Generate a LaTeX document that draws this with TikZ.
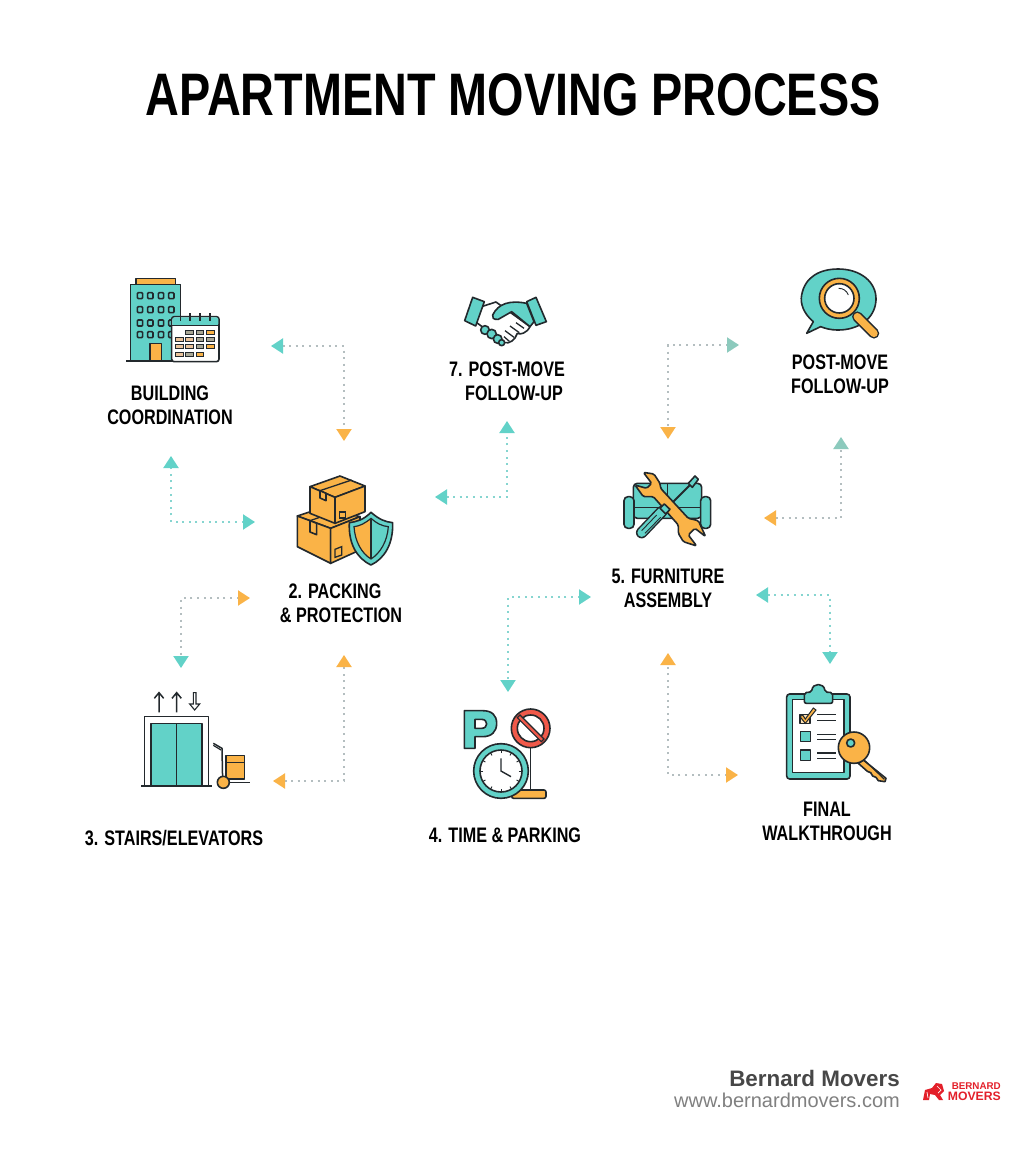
\documentclass[tikz,border=0pt]{standalone}
\usepackage{fontspec}
\usetikzlibrary{arrows.meta}
\newfontfamily\condbold[FakeStretch=0.77]{Liberation Sans Bold}
\newfontfamily\titlebold[FakeStretch=0.78]{Liberation Sans Bold}
\newfontfamily\footfont{Liberation Sans}
\newfontfamily\footbold{Liberation Sans Bold}
\definecolor{ink}{HTML}{23292D}
\definecolor{teal}{HTML}{62D2C8}
\definecolor{tealgrey}{HTML}{8CCABD}
\definecolor{orng}{HTML}{FAB347}
\definecolor{redd}{HTML}{F0594A}
\definecolor{brandred}{HTML}{E3202A}
\definecolor{dotgrey}{HTML}{B4BEC0}
\definecolor{dotteal}{HTML}{86D5D0}
\definecolor{cellg}{HTML}{A9A795}
\definecolor{cellp}{HTML}{EBC39B}
\tikzset{
  lbl/.style={font=\condbold\fontsize{21}{24}\selectfont,text=black,inner sep=0pt,align=center},
  conn/.style={line width=2pt,dash pattern=on 2pt off 4.6pt},
  ic/.style={draw=ink,line width=1.6pt,line join=round},
  tipteal/.tip={Triangle[length=12pt,width=15pt,color=teal]},
  tiporng/.tip={Triangle[length=12pt,width=15pt,color=orng]},
  tipgrey/.tip={Triangle[length=12pt,width=15pt,color=tealgrey]}
}
\begin{document}
\begin{tikzpicture}[x=1pt,y=-1pt]
\useasboundingbox (0,0) rectangle (1024,1154);
\fill[white] (0,0) rectangle (1024,1154);

% title
\node[font=\titlebold\fontsize{60}{60}\selectfont,text=black,inner sep=0pt] (title) at (513,95) {APARTMENT MOVING PROCESS};

% labels
\node[lbl] (l1) at (170,405) {BUILDING\\COORDINATION};
\node[lbl] (l2) at (341,603) {2. PACKING\hspace*{12pt}\\\& PROTECTION};
\node[lbl] (l3) at (174,838) {3. STAIRS/ELEVATORS};
\node[lbl] (l4) at (505,835) {4. TIME \& PARKING};
\node[lbl] (l5) at (668,588) {5. FURNITURE\\ASSEMBLY};
\node[lbl] (l6) at (840,374) {POST-MOVE\\FOLLOW-UP};
\node[lbl,align=right] (l7) at (507,381) {7. POST-MOVE\\FOLLOW-UP\hspace*{2pt}};
\node[lbl] (l8) at (827,821) {FINAL\\WALKTHROUGH};

% connector ends
\coordinate (a1) at (271,346); \coordinate (b1) at (344,441);
\coordinate (a2) at (255,522); \coordinate (b2) at (171,456);
\coordinate (a3) at (250,598); \coordinate (b3) at (181,668);
\coordinate (a4) at (273,781); \coordinate (b4) at (344,655);
\coordinate (a5) at (435,497); \coordinate (b5) at (507,421);
\coordinate (a6) at (739,345); \coordinate (b6) at (668,439);
\coordinate (a7) at (764,518); \coordinate (b7) at (841,437);
\coordinate (a8) at (591,597); \coordinate (b8) at (508,692);
\coordinate (a9) at (756,595); \coordinate (b9) at (830,664);
\coordinate (a10) at (738,775); \coordinate (b10) at (668,653);

\draw[conn,dotgrey,{tipteal}-{tiporng}] (a1) -| (b1);
\draw[conn,dotteal,{tipteal}-{tipteal}] (a2) -| (b2);
\draw[conn,dotgrey,{tiporng}-{tipteal}] (a3) -| (b3);
\draw[conn,dotgrey,{tiporng}-{tiporng}] (a4) -| (b4);
\draw[conn,dotteal,{tipteal}-{tipteal}] (a5) -| (b5);
\draw[conn,dotgrey,{tipgrey}-{tiporng}] (a6) -| (b6);
\draw[conn,dotgrey,{tiporng}-{tipgrey}] (a7) -| (b7);
\draw[conn,dotteal,{tipteal}-{tipteal}] (a8) -| (b8);
\draw[conn,dotteal,{tipteal}-{tipteal}] (a9) -| (b9);
\draw[conn,dotgrey,{tiporng}-{tiporng}] (a10) -| (b10);

% ---- icons drawn in zoom coordinates
\begin{scope}[shift={(90,260)},scale=1/3]
 % building
 \draw[ic,fill=orng] (138,55) rectangle (257,73);
 \draw[ic,fill=teal] (122,73) rectangle (272,303);
 \draw[ink,line width=1.6pt] (108,303) -- (250,303);
 \foreach \y in {98,140,180,215} \foreach \x in {142,173,205,236}
   \draw[ink,line width=1.6pt,rounded corners=1pt] (\x,\y) rectangle ++(16,18);
 \draw[ic,fill=orng] (180,250) rectangle (214,303);
 \draw[ic,fill=white,rounded corners=2.5pt] (245,170) rectangle (387,305);
 \fill[teal,rounded corners=2pt] (247,172) rectangle (385,197);
 \draw[ink,line width=1.2pt] (245,197) -- (387,197);
 \foreach \x in {272,300,330,360} \draw[ink,line width=1.4pt] (\x,160) -- (\x,183);
 \foreach \x/\y/\c in {298/217/cellg,330/217/cellg,361/217/orng,
   268/238/cellp,298/238/cellp,330/238/cellg,361/238/cellg,
   268/260/cellp,298/260/cellp,330/260/cellg,361/260/orng,
   268/284/cellp,298/284/cellg,330/284/orng}
   \draw[fill=\c,draw=ink,line width=.9pt] (\x-11,\y-6) rectangle (\x+11,\y+6);
 % boxes: lower box first, upper box rests on it
 \draw[ic,fill=orng] (622,768) -- (700,742) -- (810,770) -- (722,805) -- cycle;
 \draw[ic,fill=orng] (622,768) -- (722,805) -- (722,910) -- (622,860) -- cycle;
 \draw[ic,fill=orng] (722,805) -- (810,770) -- (810,870) -- (722,910) -- cycle;
 \draw[ink,line width=1.3pt] (660,782) -- (715,763);
 \draw[ic,fill=orng] (660,782) -- (680,790) -- (680,824) -- (660,816) -- cycle;
 \draw[ink,line width=1.3pt] (735,868) -- (755,860) -- (755,885) -- (735,892) -- cycle;
 \draw[ic,fill=orng] (660,680) -- (750,648) -- (825,678) -- (735,712) -- cycle;
 \draw[ic,fill=orng] (660,680) -- (735,712) -- (735,790) -- (660,760) -- cycle;
 \draw[ic,fill=orng] (735,712) -- (825,678) -- (825,755) -- (735,790) -- cycle;
 \draw[ink,line width=1.3pt] (690,692) -- (785,660);
 \draw[ic,fill=orng] (690,692) -- (708,700) -- (708,722) -- (690,714) -- cycle;
 \draw[ink,line width=1.3pt] (749,756) rectangle (767,774);
 % shield
 \draw[ic,fill=teal] (843,757) .. controls (870,780) and (885,785) .. (908,788)
    .. controls (910,850) and (885,895) .. (843,915)
    .. controls (800,895) and (775,850) .. (778,788)
    .. controls (800,785) and (820,780) .. (843,757) -- cycle;
 \fill[orng] (843,775) .. controls (825,790) and (810,798) .. (792,800)
    .. controls (795,845) and (815,880) .. (843,897) -- cycle;
 \draw[ink,line width=1.2pt] (843,775) .. controls (825,790) and (810,798) .. (792,800)
    .. controls (795,845) and (815,880) .. (843,897)
    .. controls (870,880) and (892,845) .. (895,800)
    .. controls (875,798) and (860,790) .. (843,775) -- cycle;
 \draw[ink,line width=1.2pt] (843,775) -- (843,897);
\end{scope}

\begin{scope}[shift={(430,270)},scale=1/3]
 % handshake
 \draw[ic,fill=white] (148,112) -- (198,96) -- (300,170) .. controls (290,190) and (270,195) .. (262,190)
   .. controls (255,210) and (240,222) .. (222,218) -- (140,158) -- cycle;
 \foreach \x/\y/\r in {165/180/13,185/192/14,203/207/13,215/218/9}
   \draw[ic,fill=teal] (\x,\y) ellipse [x radius=\r,y radius=\r];
 \draw[ic,fill=teal] (188,135) .. controls (205,100) and (240,90) .. (290,100)
   -- (312,155) -- (300,170) -- (245,125) -- (205,148) .. controls (190,150) and (185,142) .. (188,135) -- cycle;
 \draw[ink,line width=1.3pt] (282,175) -- (258,158) (268,188) -- (240,168) (252,202) -- (225,182) (238,214) -- (222,200);
 \draw[ic,fill=teal] (128,82) -- (163,95) -- (137,168) -- (104,152) -- cycle;
 \draw[ic,fill=teal] (318,82) -- (349,155) -- (318,166) -- (290,95) -- cycle;
 % speech bubble + magnifier
 \draw[ic,fill=teal] (1130,190) -- (1150,155) .. controls (1120,130) and (1110,100) .. (1115,75)
   .. controls (1125,20) and (1170,-3) .. (1225,-3)
   .. controls (1290,-3) and (1340,35) .. (1338,90)
   .. controls (1335,150) and (1280,180) .. (1225,180)
   .. controls (1200,180) and (1185,175) .. (1172,170) -- cycle;
 \draw[ink,line width=10.5pt,line cap=round] (1282,140) -- (1332,190);
 \draw[orng,line width=7.5pt,line cap=round] (1282,140) -- (1332,190);
 \draw[ic,fill=orng] (1228,85) ellipse [x radius=60,y radius=60];
 \draw[ic,fill=white] (1228,85) ellipse [x radius=44,y radius=44];
 \draw[ink,line width=.9pt] (1226,55) .. controls (1240,55) and (1250,62) .. (1255,75);
 % sofa
 \draw[ic,fill=teal,rounded corners=4pt] (610,640) rectangle (815,745);
 \draw[ink,line width=1.4pt] (712,640) -- (712,712) (612,712) -- (812,712);
 \draw[ic,fill=teal,rounded corners=4pt] (582,680) rectangle (612,775);
 \draw[ic,fill=teal,rounded corners=4pt] (812,680) rectangle (842,775);
 % screwdriver
 \draw[ink,line width=2pt] (720,705) -- (785,640);
 \draw[ic,fill=teal] (775,640) -- (795,618) -- (805,628) -- (787,652) -- cycle;
 % wrench
 \draw[ic,fill=orng,rounded corners=1.5pt] (640,607) -- (672,612) -- (690,640) -- (692,655) -- (775,745)
   -- (805,752) -- (827,800) -- (795,775) -- (775,795) -- (800,828) -- (760,815) -- (745,790) -- (745,765)
   -- (670,680) -- (640,680) -- (615,645) -- (650,655) -- (665,640) -- cycle;
 % screwdriver handle
 \draw[ink,line width=11.5pt,line cap=round] (635,788) -- (695,725);
 \draw[teal,line width=8.5pt,line cap=round] (635,788) -- (695,725);
 \draw[ink,line width=.9pt] (635,782) -- (680,735) (645,790) -- (692,742);
 \draw[ic,fill=teal] (690,715) -- (703,702) -- (720,718) -- (707,732) -- cycle;
\end{scope}

\begin{scope}[shift={(120,670)},scale=1/3]
 % elevator
 \draw[ic] (73,348) -- (73,140) -- (265,140) -- (265,348);
 \draw[ic,fill=teal] (93,348) -- (93,160) -- (246,160) -- (246,348) -- cycle;
 \draw[ink,line width=1.5pt] (170,160) -- (170,348);
 \draw[ink,line width=1.9pt] (63,348) -- (275,348);
 \draw[ink,line width=1.5pt] (117,127) -- (117,68) (103,85) -- (117,68) -- (131,85);
 \draw[ink,line width=1.5pt] (170,127) -- (170,68) (156,85) -- (170,68) -- (184,85);
 \draw[ink,line width=1.1pt] (220,68) -- (220,102) -- (209,102) -- (224,120) -- (239,102) -- (228,102) -- (228,68) -- cycle;
 % cart
 \draw[ink,line width=1.5pt] (280,220) -- (306,235) -- (308,335);
 \draw[ink,line width=1.2pt] (280,226) -- (303,240);
 \draw[ink,line width=1.5pt] (325,337) -- (390,337);
 \draw[ic,fill=orng] (318,257) rectangle (373,327);
 \draw[ink,line width=1.2pt] (318,277) -- (373,277);
 \draw[ic,fill=orng] (310,337) ellipse [x radius=18,y radius=18];
 % parking
 \draw[ic,fill=teal,even odd rule] (1033,122) -- (1033,235) -- (1065,235) -- (1065,200) -- (1088,200)
   .. controls (1115,200) and (1130,185) .. (1130,160) .. controls (1130,135) and (1115,122) .. (1088,122) -- cycle
   (1065,148) -- (1065,175) -- (1085,175) .. controls (1105,175) and (1105,148) .. (1085,148) -- cycle;
 \draw[ink,line width=1.5pt] (1232,230) -- (1232,365);
 \draw[ic,fill=redd] (1232,175) ellipse [x radius=58,y radius=58];
 \draw[ic,fill=white] (1232,175) ellipse [x radius=40,y radius=40];
 \draw[draw=ink,fill=redd,line width=1.1pt] (1192,143) -- (1200,135) -- (1272,207) -- (1264,215) -- cycle;
 \draw[ic,fill=orng,rounded corners=2pt] (1175,360) rectangle (1278,385);
 \draw[ic,fill=teal] (1143,303) ellipse [x radius=82,y radius=82];
 \draw[ic,fill=white] (1143,303) ellipse [x radius=63,y radius=63];
 \foreach \a in {0,30,...,330}
   \draw[ink,line width=.9pt] (1143,303) ++(\a:54) -- ++(\a:8);
 \draw[ink,line width=1.4pt] (1143,265) -- (1143,303) -- (1173,320);
\end{scope}

\begin{scope}[shift={(650,670)},scale=1/3]
 % clipboard
 \draw[ic,fill=teal,rounded corners=3pt] (410,72) rectangle (600,327);
 \draw[ic,fill=white] (428,88) rectangle (582,307);
 \draw[ic,fill=teal,rounded corners=2pt] (463,100) -- (463,68) -- (485,66) .. controls (488,38) and (522,38) .. (525,66) -- (548,68) -- (548,100) -- cycle;
 \draw[ic,fill=orng!40] (450,133) rectangle (480,160);
 \draw[draw=ink,fill=orng,line width=1pt] (450,140) -- (458,135) -- (466,147) -- (490,114) -- (498,120) -- (466,160) -- cycle;
 \draw[ic,fill=teal] (452,184) rectangle (482,215);
 \draw[ic,fill=teal] (452,240) rectangle (482,271);
 \foreach \y in {133,151,193,209,249,265} \draw[ink,line width=1.5pt] (502,\y) -- (557,\y);
 % key
 \draw[ic,fill=orng] (640,270) -- (708,325) -- (705,335) -- (685,332) -- (678,322) -- (668,318) -- (662,308) -- (652,304) -- (625,280) -- cycle;
 \draw[ic,fill=orng] (612,233) ellipse [x radius=47,y radius=47];
 \draw[ic,fill=teal] (602,219) ellipse [x radius=12,y radius=12];
 \draw[ink,line width=1.1pt] (645,272) -- (703,328);
\end{scope}

% footer
\node[font=\footbold\fontsize{22.4}{23}\selectfont,text=black!72,anchor=east,inner sep=0pt] (ft1) at (900,1078) {Bernard Movers};
\node[font=\footfont\fontsize{20}{20}\selectfont,text=black!50,anchor=east,inner sep=0pt] (ft2) at (900,1100) {www.bernardmovers.com};
\node[font=\footbold\fontsize{9.8}{9.8}\selectfont,text=brandred,anchor=east,inner sep=0pt] (ft3) at (1001,1086) {BERNARD};
\node[font=\footbold\fontsize{12.2}{12.2}\selectfont,text=brandred,anchor=east,inner sep=0pt] (ft4) at (1001,1096.5) {MOVERS};
% lion
\fill[brandred] (923,1100) -- (925,1090) -- (932,1088) -- (936,1083) -- (942,1084) -- (944,1091) -- (940,1095) -- (943,1100) -- (939,1100) -- (935,1095) -- (930,1094) -- (929,1100) -- cycle;
\draw[white,line width=.7pt] (927,1092) -- (928,1098) (937,1086) -- (941,1090) -- (938,1093);
\end{tikzpicture}
\end{document}
